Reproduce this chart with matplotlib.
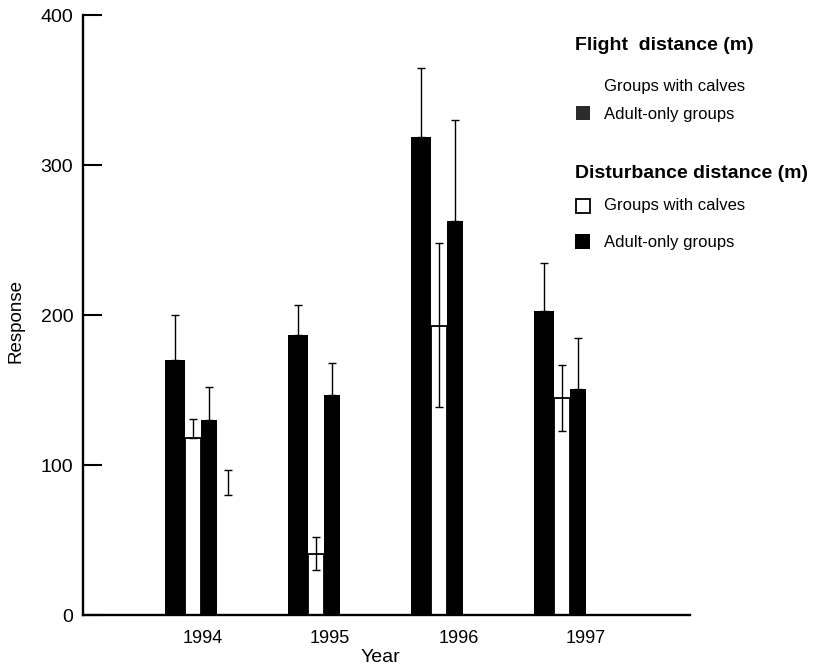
import numpy as np
import matplotlib
matplotlib.use("Agg")
import matplotlib.pyplot as plt
from matplotlib.patches import Rectangle

plt.rcParams['font.family'] = ['Liberation Sans', 'DejaVu Sans']

years = ['1994', '1995', '1996', '1997']

# flight distance, adult-only groups (black bars, first in each year)
flight_adult = [170, 187, 319, 203]
flight_adult_err = [30, 20, 46, 32]

# disturbance distance, groups with calves (white bars)
dist_calves = [118, 41, 193, 145]
dist_calves_err_lo = [0, 11, 54, 22]
dist_calves_err_hi = [13, 11, 55, 22]

# disturbance distance, adult-only groups (black bars)
dist_adult = [130, 147, 263, 151]
dist_adult_err = [22, 21, 67, 34]

# flight distance, groups with calves (no fill, only the error bar shows)
flight_calves = [80, np.nan, np.nan, np.nan]
flight_calves_err = [17, np.nan, np.nan, np.nan]

W, H = 827, 669
fig = plt.figure(figsize=(W / 100, H / 100), dpi=100)
ax = fig.add_axes([83 / W, 54 / H, 607 / W, 600 / H])

x = np.arange(len(years))
w1, w2, w3, w4 = 0.165, 0.125, 0.13, 0.12
zeros = np.zeros(len(years))
ekw = dict(ecolor='black', elinewidth=1.0, capsize=3, capthick=1.0, fmt='none')

x1 = x - w2 / 2 - w1 / 2
x3 = x + w2 / 2 + w3 / 2
x4 = x + 0.285

ax.bar(x1, flight_adult, w1, color='black', zorder=2)
ax.errorbar(x1, flight_adult, yerr=[zeros, flight_adult_err], zorder=1, **ekw)

ax.bar(x, dist_calves, w2, color='white', edgecolor='black', linewidth=1.3, zorder=2)
ax.errorbar(x, dist_calves, yerr=[dist_calves_err_lo, dist_calves_err_hi], zorder=3, **ekw)

ax.bar(x3, dist_adult, w3, color='black', zorder=2)
ax.errorbar(x3, dist_adult, yerr=[zeros, dist_adult_err], zorder=1, **ekw)

ax.bar(x4, flight_calves, w4, color='white', linewidth=0, zorder=2)
ax.errorbar(x4, flight_calves, yerr=[zeros, flight_calves_err], zorder=3, **ekw)

ax.set_xlim(-0.894, 4.04)
ax.set_ylim(0, 400)

for s in ['top', 'right']:
    ax.spines[s].set_visible(False)
for s in ['left', 'bottom']:
    ax.spines[s].set_linewidth(1.7)

ax.set_yticks([0, 100, 200, 300, 400])
ax.tick_params(axis='y', direction='in', length=13.5, width=1.5, pad=7, labelsize=14)
ax.set_xticks([0.08, 1.11, 2.16, 3.19])
ax.set_xticklabels(years)
ax.tick_params(axis='x', length=0, pad=11, labelsize=13)

ax.set_ylabel('Response', fontsize=13.5)
ax.yaxis.set_label_coords(-0.097, 0.49)
ax.set_xlabel('Year', fontsize=14)
ax.xaxis.set_label_coords(0.49, -0.056)

# legend drawn by hand in pixel positions
def fx(px):
    return px / W

def fy(py):
    return 1 - py / H

hsize, bsize = 14, 12
fig.text(fx(575), fy(50), 'Flight  distance (m)', fontsize=hsize, fontweight='bold', va='baseline')
fig.text(fx(604), fy(87), 'Groups with calves', fontsize=bsize, va='center')
fig.add_artist(Rectangle((fx(576), fy(120)), 14 / W, 14 / H, transform=fig.transFigure,
                         facecolor='#2b2b2b', edgecolor='none'))
fig.text(fx(604), fy(114), 'Adult-only groups', fontsize=bsize, va='center')
fig.text(fx(575), fy(178), 'Disturbance distance (m)', fontsize=hsize, fontweight='bold', va='baseline')
fig.add_artist(Rectangle((fx(576), fy(213)), 14 / W, 14 / H, transform=fig.transFigure,
                         facecolor='white', edgecolor='black', linewidth=1.3))
fig.text(fx(604), fy(206), 'Groups with calves', fontsize=bsize, va='center')
fig.add_artist(Rectangle((fx(575), fy(249)), 15 / W, 15 / H, transform=fig.transFigure,
                         facecolor='black', edgecolor='none'))
fig.text(fx(604), fy(242), 'Adult-only groups', fontsize=bsize, va='center')

fig.savefig('out.png', dpi=100)
